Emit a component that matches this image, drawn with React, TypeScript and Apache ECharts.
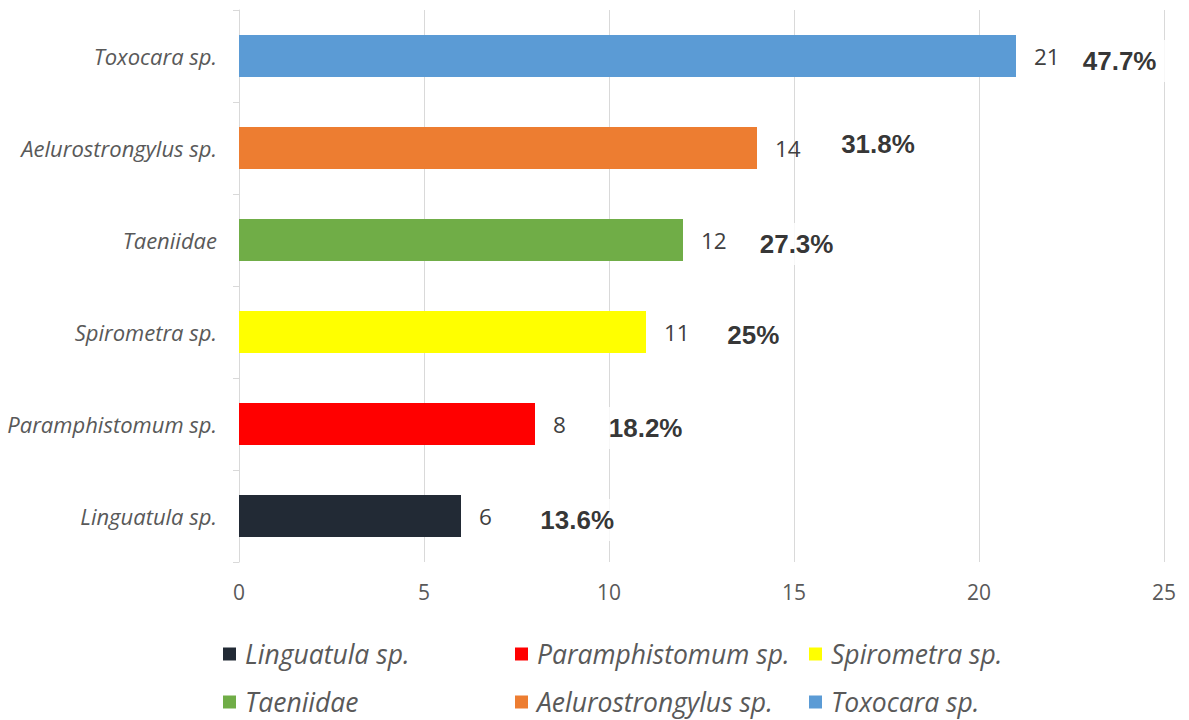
import React, { useEffect, useRef } from "react";
import * as echarts from "echarts";

const categories = [
  "Linguatula sp.",
  "Paramphistomum sp.",
  "Spirometra sp.",
  "Taeniidae",
  "Aelurostrongylus sp.",
  "Toxocara sp.",
];
const counts = [6, 8, 11, 12, 14, 21];
const percentLabels = ["13.6%", "18.2%", "25%", "27.3%", "31.8%", "47.7%"];
// where the percent text is centred, in axis units
const percentAnchor = [9.14, 10.99, 13.9, 15.07, 17.27, 23.8];
const colors = ["#222A35", "#FF0000", "#FFFF00", "#70AD47", "#ED7D31", "#5B9BD5"];
const xTicks = { min: 0, max: 25, interval: 5 };

// layout for the legends (pixel positions)
const legendCols = [223, 515, 809];
const legendRows = [639, 687];
const percentDy = [4, 4, 3, 4, -4, 5];

const sansFont = "'Open Sans', sans-serif";

export default function App() {
  const ref = useRef<HTMLDivElement>(null);
  useEffect(() => {
    if (!ref.current) return;
    const chart = echarts.init(ref.current, null, { renderer: "svg" });

    const barSeries = categories.map((name, i) => ({
      name,
      type: "bar",
      stack: "all",
      barWidth: 42,
      itemStyle: { color: colors[i] },
      data: categories.map((_, j) => (j === i ? counts[i] : "-")),
      label: {
        show: true,
        position: "right",
        distance: 18,
        fontFamily: sansFont,
        fontSize: 22.5,
        color: "#404040",
      },
    }));

    const pctSeries = {
      type: "scatter",
      name: "pct",
      symbol: "circle",
      symbolSize: 1,
      itemStyle: { color: "rgba(0,0,0,0)" },
      silent: true,
      z: 5,
      label: {
        show: true,
        position: "inside",
        formatter: (p: any) => "{p|" + percentLabels[p.dataIndex] + "}",
        backgroundColor: "#ffffff",
        padding: [8, 10],
        rich: {
          p: {
            fontFamily: "'Liberation Sans', Arial, sans-serif",
            fontWeight: "bold",
            fontSize: 26,
            color: "#000000",
            textBorderWidth: 0,
          },
        },
      },
      data: percentAnchor.map((x, i) => ({
        value: [x, i],
        label: { offset: [0, percentDy[i]] },
      })),
    };

    const legends = categories.map((name, i) => ({
      data: [name],
      left: legendCols[i % 3],
      top: legendRows[Math.floor(i / 3)],
      padding: 0,
      icon: "rect",
      itemWidth: 13,
      itemHeight: 13,
      itemGap: 0,
      selectedMode: false,
      textStyle: {
        fontFamily: sansFont,
        fontStyle: "italic",
        fontSize: 26.5,
        color: "#595959",
        lineHeight: 30,
        padding: [0, 0, 0, 4],
      },
    }));

    chart.setOption({
      animation: false,
      backgroundColor: "#ffffff",
      grid: { left: 239, right: 25, top: 10, bottom: 158, containLabel: false },
      legend: legends,
      xAxis: {
        type: "value",
        min: xTicks.min,
        max: xTicks.max,
        interval: xTicks.interval,
        axisLine: { show: false },
        axisTick: { show: false },
        splitLine: { lineStyle: { color: "#d9d9d9", width: 1 } },
        axisLabel: { fontFamily: sansFont, fontSize: 21, color: "#595959", margin: 19 },
      },
      yAxis: {
        type: "category",
        data: categories,
        axisLine: { lineStyle: { color: "#d9d9d9" } },
        axisTick: { show: true, length: 6, lineStyle: { color: "#d9d9d9" } },
        axisLabel: {
          fontFamily: sansFont,
          fontStyle: "italic",
          fontSize: 22,
          color: "#595959",
          margin: 22,
        },
      },
      series: [...barSeries, pctSeries],
    });
    return () => chart.dispose();
  }, []);
  return (
    <div
      ref={ref}
      style={{ position: "fixed", left: 0, top: 0, width: 1189, height: 720 }}
    />
  );
}
